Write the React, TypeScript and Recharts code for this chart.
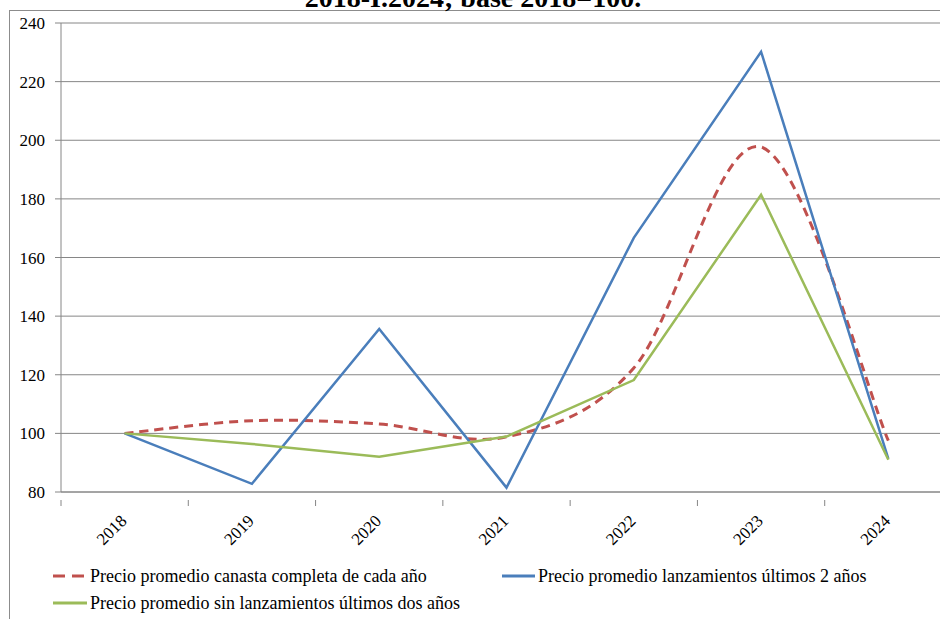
import { LineChart, Line, XAxis, YAxis, CartesianGrid, Legend } from "recharts";

const years = ["2018", "2019", "2020", "2021", "2022", "2023", "2024"];
const canastaCompleta = [100, 104.3, 103.2, 98.8, 122.3, 197.7, 97.5];
const lanzamientos = [100, 82.8, 135.6, 81.5, 166.7, 230.2, 91.3];
const sinLanzamientos = [100, 96.4, 92, 98.9, 118.2, 181.4, 91];
const yTicks = [80, 100, 120, 140, 160, 180, 200, 220, 240];

const data = years.map((year, i) => ({
  year,
  canasta: canastaCompleta[i],
  lanz: lanzamientos[i],
  sin: sinLanzamientos[i],
}));

const FONT = "'Times New Roman', Times, Tinos, 'Liberation Serif', 'DejaVu Serif', 'Noto Serif', FreeSerif, serif";
const RED = "#C0504D";
const BLUE = "#4A7EBB";
const GREEN = "#9BBB59";
const GRID = "#868686";

const CHART_W = 960;
const CHART_H = 619;
const MARGIN = { top: 23, right: 8, left: 0, bottom: 10 };
const Y_AXIS_W = 61;
const PLOT_W = CHART_W - MARGIN.left - MARGIN.right - Y_AXIS_W;
const BAND = PLOT_W / years.length;

// Excel-like smoothing (Catmull-Rom through the points)
const excelSmooth = (context: any) => {
  let pts: [number, number][] = [];
  return {
    areaStart() {},
    areaEnd() {},
    lineStart() {
      pts = [];
    },
    lineEnd() {
      if (!pts.length) return;
      context.moveTo(pts[0][0], pts[0][1]);
      for (let i = 0; i < pts.length - 1; i++) {
        const p0 = pts[i - 1] || pts[i];
        const p1 = pts[i];
        const p2 = pts[i + 1];
        const p3 = pts[i + 2] || p2;
        context.bezierCurveTo(
          p1[0] + (p2[0] - p0[0]) / 6,
          p1[1] + (p2[1] - p0[1]) / 6,
          p2[0] - (p3[0] - p1[0]) / 6,
          p2[1] - (p3[1] - p1[1]) / 6,
          p2[0],
          p2[1]
        );
      }
    },
    point(x: number, y: number) {
      pts.push([+x, +y]);
    },
  };
};

const XTick = (props: any) => {
  const { x, y, payload, index } = props;
  const lx = x + 3;
  const ly = y + 22;
  return (
    <g>
      <line x1={x - BAND / 2} x2={x - BAND / 2} y1={y} y2={y + 6} stroke={GRID} />
      {index === years.length - 1 && (
        <line x1={x + BAND / 2} x2={x + BAND / 2} y1={y} y2={y + 6} stroke={GRID} />
      )}
      <text
        x={lx}
        y={ly}
        textAnchor="end"
        transform={`rotate(-45, ${lx}, ${ly})`}
        style={{ fontFamily: FONT }}
        fontSize={17}
        fill="#000"
      >
        {payload.value}
      </text>
    </g>
  );
};

const legendItems = [
  { label: "Precio promedio canasta completa de cada año", color: RED, dashed: true, left: 53, top: 16, textLeft: 90 },
  { label: "Precio promedio lanzamientos últimos 2 años", color: BLUE, dashed: false, left: 502, top: 16, textLeft: 538 },
  { label: "Precio promedio sin lanzamientos últimos dos años", color: GREEN, dashed: false, left: 53, top: 43, textLeft: 90 },
];

const ChartLegend = () => (
  <div style={{ position: "relative", width: 940, height: 60 }}>
    {legendItems.map((item) => (
      <div key={item.label}>
        <svg
          width={34}
          height={6}
          style={{ position: "absolute", left: item.left, top: item.top - 3 }}
        >
          <line
            x1={0}
            x2={item.textLeft - item.left - 3}
            y1={3}
            y2={3}
            stroke={item.color}
            strokeWidth={3}
            strokeDasharray={item.dashed ? "12 7" : undefined}
          />
        </svg>
        <div
          style={{
            position: "absolute",
            left: item.textLeft,
            top: item.top - 11,
            lineHeight: "22px",
            fontFamily: FONT,
            fontSize: 18,
            color: "#000",
            whiteSpace: "nowrap",
          }}
        >
          {item.label}
        </div>
      </div>
    ))}
  </div>
);

const App = () => {
  return (
    <div
      style={{
        position: "fixed",
        left: 0,
        top: 0,
        width: 940,
        height: 619,
        overflow: "hidden",
        background: "#fff",
        fontFamily: FONT,
      }}
    >
      <div
        style={{
          position: "absolute",
          left: 9,
          top: 10,
          width: 1000,
          height: 700,
          border: "1px solid #8c8c8c",
        }}
      />
      <div
        style={{
          position: "absolute",
          left: 0,
          top: -16,
          width: 946,
          textAlign: "center",
          fontFamily: FONT,
          fontWeight: "bold",
          fontSize: 28,
          lineHeight: "28px",
          color: "#000",
          whiteSpace: "nowrap",
        }}
      >
        2018-I.2024; base 2018=100.
      </div>
      <div style={{ position: "absolute", left: 0, top: 0 }}>
        <LineChart width={CHART_W} height={CHART_H} data={data} margin={MARGIN}>
          <CartesianGrid vertical={false} stroke={GRID} strokeWidth={1} />
          <XAxis
            dataKey="year"
            height={57}
            stroke={GRID}
            tickLine={false}
            tick={<XTick />}
            interval={0}
            padding={{ left: BAND / 2, right: BAND / 2 }}
          />
          <YAxis
            width={Y_AXIS_W}
            domain={[80, 240]}
            ticks={yTicks}
            stroke={GRID}
            tickSize={6}
            tickMargin={10}
            tick={{ style: { fontFamily: FONT }, fontSize: 17, fill: "#000" }}
          />
          <Legend
            verticalAlign="bottom"
            height={60}
            wrapperStyle={{ left: 0, top: 560, width: 940, height: 60 }}
            content={() => <ChartLegend />}
          />
          <Line
            dataKey="canasta"
            name="Precio promedio canasta completa de cada año"
            type={excelSmooth as any}
            stroke={RED}
            strokeWidth={3}
            strokeDasharray="9 6"
            dot={false}
            isAnimationActive={false}
          />
          <Line
            dataKey="lanz"
            name="Precio promedio lanzamientos últimos 2 años"
            type="linear"
            stroke={BLUE}
            strokeWidth={2.5}
            dot={false}
            isAnimationActive={false}
          />
          <Line
            dataKey="sin"
            name="Precio promedio sin lanzamientos últimos dos años"
            type="linear"
            stroke={GREEN}
            strokeWidth={2.5}
            dot={false}
            isAnimationActive={false}
          />
        </LineChart>
      </div>
    </div>
  );
};

export default App;
